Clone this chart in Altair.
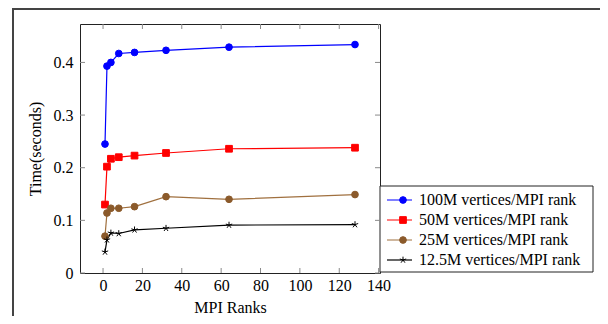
import altair as alt
import pandas as pd

ranks = [1, 2, 4, 8, 16, 32, 64, 128]
t100 = [0.245, 0.393, 0.400, 0.417, 0.419, 0.423, 0.429, 0.434]
t50 = [0.130, 0.202, 0.217, 0.220, 0.223, 0.228, 0.236, 0.238]
t25 = [0.070, 0.114, 0.123, 0.123, 0.126, 0.145, 0.140, 0.149]
t12 = [0.040, 0.063, 0.076, 0.075, 0.082, 0.085, 0.091, 0.092]
series = ["100M vertices/MPI rank", "50M vertices/MPI rank",
          "25M vertices/MPI rank", "12.5M vertices/MPI rank"]
keys = ["100M", "50M", "25M", "12.5M"]
line_colors = ["#0000ff", "#ff0000", "#a0703f", "#000000"]
fill_colors = ["#0000ff", "#ff0000", "#8b5a2b", "#000000"]
STAR = "M0,-1L0,0M0.95,-0.31L0,0M0.59,0.81L0,0M-0.59,0.81L0,0M-0.95,-0.31L0,0"
shapes = ["circle", "square", "circle", STAR]
x_ticks = [0, 20, 40, 60, 80, 100, 120, 140]
y_ticks = [0, 0.1, 0.2, 0.3, 0.4]

rows = []
for name, key, vals in zip(series, keys, [t100, t50, t25, t12]):
    for r, v in zip(ranks, vals):
        rows.append({"series": name, "key": key, "rank": r, "time": v})
df = pd.DataFrame(rows)

W, H = 300, 249
FONT = "'Liberation Serif', 'Times New Roman', 'DejaVu Serif', serif"
FS = 16

xs = alt.Scale(domain=[-11.7, 140.7], nice=False, zero=False)
ys = alt.Scale(domain=[0, 0.473], nice=False, zero=False)

X = alt.X("rank:Q", scale=xs, title="MPI Ranks",
          axis=alt.Axis(values=x_ticks, ticks=False, domain=False, grid=False,
                        labelPadding=4, titlePadding=6, labelFlush=False,
                        labelOverlap=False))
Y = alt.Y("time:Q", scale=ys, title="Time(seconds)",
          axis=alt.Axis(values=y_ticks, ticks=False, domain=False, grid=False,
                        labelPadding=7, titlePadding=10, format="~g",
                        labelOverlap=False))

one = pd.DataFrame({"a": [0]})

frame = alt.Chart(one).mark_rect(fill="transparent", stroke="#444444", strokeWidth=2).encode(
    x=alt.value(-67), y=alt.value(-15), x2=alt.value(700), y2=alt.value(500))

legend_box = alt.Chart(one).mark_rect(fill="white", stroke="#222222", strokeWidth=1).encode(
    x=alt.value(300), y=alt.value(162), x2=alt.value(513), y2=alt.value(248))

xt = pd.DataFrame({"rank": x_ticks})
yt = pd.DataFrame({"time": y_ticks})
TC = "#8a8a8a"
xt_bot = alt.Chart(xt).mark_rule(color=TC).encode(
    x=alt.X("rank:Q", scale=xs), y=alt.value(H), y2=alt.value(H - 5))
xt_top = alt.Chart(xt).mark_rule(color=TC).encode(
    x=alt.X("rank:Q", scale=xs), y=alt.value(0), y2=alt.value(5))
yt_left = alt.Chart(yt).mark_rule(color=TC).encode(
    y=alt.Y("time:Q", scale=ys), x=alt.value(0), x2=alt.value(5))
yt_right = alt.Chart(yt).mark_rule(color=TC).encode(
    y=alt.Y("time:Q", scale=ys), x=alt.value(W), x2=alt.value(W - 5))

LX, LY = 306, 166

lines = alt.Chart(df).mark_line(strokeWidth=1.2).encode(
    x=X, y=Y,
    color=alt.Color("series:N", scale=alt.Scale(domain=series, range=line_colors),
                    legend=alt.Legend(orient="none", legendX=LX, legendY=LY, title=None,
                                      symbolType="stroke", symbolSize=625,
                                      symbolStrokeWidth=1.2, labelFont=FONT,
                                      labelFontSize=FS, labelColor="black",
                                      padding=0, rowPadding=0, clipHeight=20,
                                      labelOffset=6, labelLimit=400)),
)

pleg = alt.Legend(orient="none", legendX=LX + 9, legendY=LY, title=None,
                  symbolSize=45, symbolStrokeWidth=1, labelFont=FONT,
                  labelFontSize=FS, labelExpr="''", padding=0, rowPadding=0,
                  clipHeight=20, labelOffset=6, labelLimit=400)

points = alt.Chart(df).mark_point(filled=True, size=45, strokeWidth=1, opacity=1).encode(
    x=X, y=Y,
    fill=alt.Fill("key:N", scale=alt.Scale(domain=keys, range=fill_colors), legend=pleg),
    stroke=alt.Stroke("key:N", scale=alt.Scale(domain=keys, range=fill_colors), legend=pleg),
    shape=alt.Shape("key:N", scale=alt.Scale(domain=keys, range=shapes), legend=pleg),
)

chart = alt.layer(frame, legend_box, xt_bot, xt_top, yt_left, yt_right, lines, points).properties(
    width=W, height=H,
    padding={"left": 72, "top": 16, "right": 220, "bottom": 43},
    autosize=alt.AutoSizeParams(type="none"),
).configure_axis(
    labelFont=FONT, titleFont=FONT, labelFontSize=FS, titleFontSize=FS,
    titleFontWeight="normal", labelColor="black", titleColor="black",
).configure_view(stroke="#222222", strokeWidth=1)

chart.save("out.html", embed_options={"renderer": "svg", "actions": False})
